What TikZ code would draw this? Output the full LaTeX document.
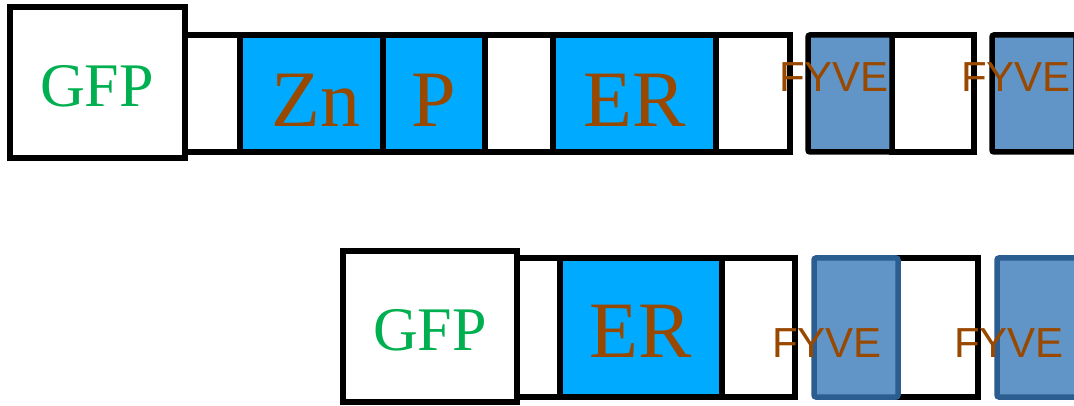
\documentclass[tikz,border=0pt]{standalone}
\usepackage{fontspec}
\setmainfont{Liberation Serif}
\newfontfamily\fyvefont{Liberation Sans}
\definecolor{domblue}{RGB}{0,170,255}
\definecolor{fyvefill}{RGB}{97,149,200}
\definecolor{fyvedark}{RGB}{44,93,145}
\definecolor{txtbrown}{RGB}{153,72,0}
\definecolor{gfpgreen}{RGB}{0,176,80}
\begin{document}
\begin{tikzpicture}[x=1pt,y=-1pt,
  box/.style={draw=black,line width=5.5pt,rectangle,inner sep=0pt,outer sep=0pt},
  linkbox/.style={box,fill=white},
  gfpbox/.style={box,fill=white,minimum width=175,minimum height=151},
  dombox/.style={box,fill=domblue},
  fyvebox/.style={box,fill=fyvefill,rounded corners=2pt,minimum width=84},
  fyveboxb/.style={fyvebox,draw=fyvedark},
  gfptext/.style={anchor=base,inner sep=0pt,text=gfpgreen,font=\fontsize{62}{62}\selectfont},
  domtext/.style={anchor=base,inner sep=0pt,text=txtbrown,font=\fontsize{80}{80}\selectfont},
  fyvetext/.style={anchor=base,inner sep=0pt,text=txtbrown,font=\fyvefont\fontsize{42}{42}\selectfont}]
\useasboundingbox (0,0) rectangle (1074,406);
\clip (0,0) rectangle (1074,406);
% ---- top row ----
\node[linkbox,minimum width=55,minimum height=117] (l1) at (212.5,93.5) {};
\node[linkbox,minimum width=68,minimum height=117] (l2) at (519,93.5) {};
\node[linkbox,minimum width=74,minimum height=117] (l3) at (753,93.5) {};
\node[linkbox,minimum width=82,minimum height=117] (l4) at (933,93.5) {};
\node[dombox,minimum width=143,minimum height=117] (zn) at (311.5,93.5) {};
\node[dombox,minimum width=102,minimum height=117] (p) at (434,93.5) {};
\node[dombox,minimum width=163,minimum height=117] (er1) at (634.5,93.5) {};
\node[fyvebox,minimum height=117] (f1) at (850,93.5) {};
\node[fyvebox,minimum height=117] (f2) at (1034,93.5) {};
\node[gfpbox] (gfp1) at (97.5,82.5) {};
\node[gfptext] (tgfp1) at (97,107) {GFP};
\node[domtext] (tzn) at (316,127) {Zn};
\node[domtext] (tp) at (434,127) {P};
\node[domtext] (ter1) at (635,127) {ER};
\node[fyvetext] (tf1) at (834,92) {FYVE};
\node[fyvetext] (tf2) at (1016,92) {FYVE};
% ---- bottom row ----
\node[linkbox,minimum width=43,minimum height=139] (m1) at (538.5,327.5) {};
\node[linkbox,minimum width=73,minimum height=139] (m2) at (758.5,327.5) {};
\node[linkbox,minimum width=80,minimum height=139] (m3) at (938,327.5) {};
\node[dombox,minimum width=162,minimum height=139] (er2) at (641,327.5) {};
\node[fyveboxb,minimum height=139] (g1) at (856,327.5) {};
\node[fyveboxb,minimum height=139] (g2) at (1039,327.5) {};
\node[gfpbox,minimum width=174] (gfp2) at (430,326.5) {};
\node[gfptext] (tgfp2) at (430,350) {GFP};
\node[domtext] (ter2) at (641,357) {ER};
\node[fyvetext] (tg1) at (827,357) {FYVE};
\node[fyvetext] (tg2) at (1009,357) {FYVE};
\end{tikzpicture}
\end{document}
